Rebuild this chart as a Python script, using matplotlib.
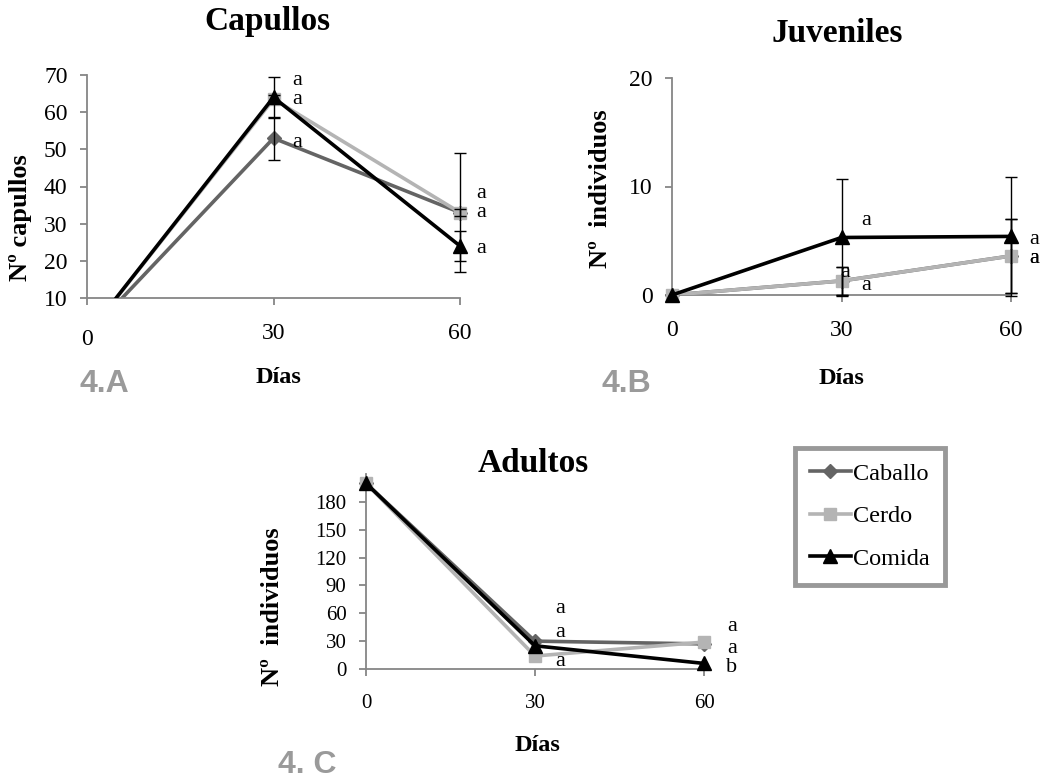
import numpy as np
import matplotlib.pyplot as plt

plt.rcParams['font.family'] = ['Liberation Serif', 'DejaVu Serif']

dias = [0, 30, 60]
series = ['Caballo', 'Cerdo', 'Comida']

# 4.A Capullos
cap_vals = {'Caballo': [0, 53, 33], 'Cerdo': [0, 63.5, 33], 'Comida': [0, 64, 24]}
cap_err = {'Caballo': [0, 5.8, 1], 'Cerdo': [0, 1, 16], 'Comida': [0, 5.5, 4]}
cap_letras = {'Caballo': ['a', 'a'], 'Cerdo': ['a', 'a'], 'Comida': ['a', 'a']}

# 4.B Juveniles
juv_vals = {'Caballo': [0, 1.3, 3.6], 'Cerdo': [0, 1.3, 3.6], 'Comida': [0, 5.3, 5.4]}
juv_err = {'Caballo': [0, 1.3, 3.4], 'Cerdo': [0, 1.3, 3.4], 'Comida': [0, 5.4, 5.5]}
juv_letras = {'Caballo': ['a', 'a'], 'Cerdo': ['a', 'a'], 'Comida': ['a', 'a']}

# 4.C Adultos
adu_vals = {'Caballo': [200, 30, 27], 'Cerdo': [200, 14, 29], 'Comida': [200, 25, 6]}
adu_letras = {'Caballo': ['a', 'a'], 'Cerdo': ['a', 'a'], 'Comida': ['a', 'b']}

colores = {'Caballo': '#646464', 'Cerdo': '#b4b4b4', 'Comida': '#000000'}
marcas = {'Caballo': 'D', 'Cerdo': 's', 'Comida': '^'}
tam = {'Caballo': 7, 'Cerdo': 9, 'Comida': 10}
gris = '#868686'

fig = plt.figure(figsize=(10.56, 7.82), dpi=100)


def panel(rect, vals, errs, letras, offs, ylim, yticks, title, title_xy, ylabel,
          ylab_xy, xlab_xy, tick_fs, panel_lbl, lbl_xy):
    ax = fig.add_axes(rect)
    for s in series:
        v = np.array(vals[s], dtype=float)
        ax.plot(dias, v, color=colores[s], lw=2.6, zorder=2 + series.index(s))
        m = v >= ylim[0]
        ax.plot(np.array(dias)[m], v[m], ls='none', marker=marcas[s], ms=tam[s],
                color=colores[s], clip_on=False, zorder=2 + series.index(s))
    if errs is not None:
        for s in series:
            eb = ax.errorbar(dias[1:], vals[s][1:], yerr=errs[s][1:], fmt='none',
                             ecolor='black', elinewidth=1, capsize=4, capthick=1, zorder=6)
            for a in list(eb[1]) + list(eb[2]):
                a.set_clip_on(False)
    for s in series:
        for i, d in enumerate(dias[1:]):
            ax.annotate(letras[s][i], (d, vals[s][i + 1]), xytext=offs[s][i],
                        textcoords='offset points', ha='center', va='center',
                        fontsize=16, zorder=7)
    ax.set_xlim(0, 60)
    ax.set_ylim(*ylim)
    ax.set_xticks(dias)
    ax.set_yticks(yticks)
    for sp in ['top', 'right']:
        ax.spines[sp].set_visible(False)
    for sp in ['left', 'bottom']:
        ax.spines[sp].set_color(gris)
        ax.spines[sp].set_linewidth(1.3)
    ax.tick_params(axis='both', color=gris, width=1.3, length=5, labelsize=tick_fs)
    ax.tick_params(axis='x', pad=13)
    ax.tick_params(axis='y', pad=9)
    ax.text(title_xy[0], title_xy[1], title, transform=ax.transAxes, ha='center',
            va='center', fontsize=24, fontweight='bold')
    ax.set_ylabel(ylabel, fontsize=19, fontweight='bold')
    ax.yaxis.set_label_coords(*ylab_xy)
    ax.set_xlabel('Días', fontsize=17.5, fontweight='bold')
    ax.xaxis.set_label_coords(*xlab_xy)
    fig.text(lbl_xy[0], lbl_xy[1], panel_lbl, family='Liberation Sans', fontweight='bold',
             color='#9a9a9a', fontsize=23, ha='left', va='center')
    return ax


offs_a = {'Caballo': [(17, -3), (15, 0)], 'Cerdo': [(17, 0), (15, 14)],
          'Comida': [(17, 12), (15, -2)]}
ax_a = panel([87 / 1056, 1 - 298 / 782, 373 / 1056, 223 / 782], cap_vals, cap_err,
             cap_letras, offs_a, (10, 70), range(10, 71, 10), 'Capullos', (0.483, 1.238),
             'Nº capullos', (-0.147, 0.36), (0.514, -0.31), 17, '4.A',
             (80 / 1056, 1 - 384 / 782))
ax_a.xaxis.get_major_ticks()[0].set_pad(17)

offs_b = {'Caballo': [(3, 6), (17, -2)], 'Cerdo': [(18, -3), (17, -2)],
          'Comida': [(18, 12), (17, -2)]}
ax_b = panel([672 / 1056, 1 - 295 / 782, 339 / 1056, 217 / 782], juv_vals, juv_err,
             juv_letras, offs_b, (0, 20), [0, 10, 20], 'Juveniles', (0.487, 1.207),
             'Nº  individuos', (-0.177, 0.49), (0.501, -0.336), 17, '4.B',
             (602 / 1056, 1 - 384 / 782))

offs_c = {'Caballo': [(18, 6), (20, -3)], 'Cerdo': [(18, -4), (20, 11)],
          'Comida': [(18, 27), (20, -3)]}
ax_c = panel([366 / 1056, 1 - 669 / 782, 338 / 1056, 195 / 782], adu_vals, None,
             adu_letras, offs_c, (0, 210), range(0, 181, 30), 'Adultos', (0.494, 1.056),
             'Nº  individuos', (-0.243, 0.318), (0.506, -0.338), 15, '4. C',
             (278 / 1056, 1 - 765 / 782))

handles = [plt.Line2D([], [], color=colores[s], lw=2.6, marker=marcas[s], ms=tam[s])
           for s in series]
leg = fig.legend(handles, series, loc='upper left', bbox_to_anchor=(795 / 1056, 1 - 448 / 782),
                 bbox_transform=fig.transFigure, fontsize=17.5, frameon=True, fancybox=False,
                 handlelength=1.7, handletextpad=0.1, labelspacing=0.85, borderpad=0.6,
                 borderaxespad=0)
leg.get_frame().set_edgecolor('#808080')
leg.get_frame().set_linewidth(3.5)

fig.savefig('out.png', dpi=100)
